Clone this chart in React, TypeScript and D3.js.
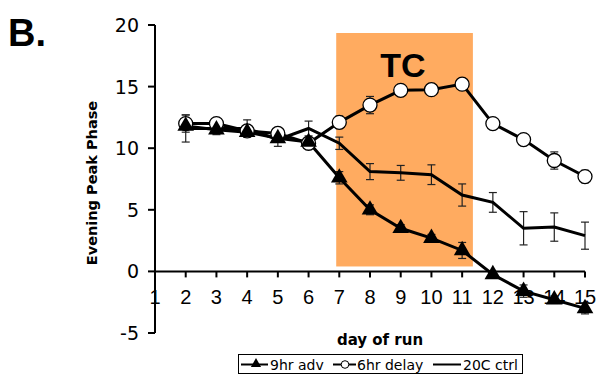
import React from 'react';
import * as d3 from 'd3';

const days = [2, 3, 4, 5, 6, 7, 8, 9, 10, 11, 12, 13, 14, 15];
const adv9 = [11.8, 11.5, 11.3, 10.8, 10.5, 7.6, 5.0, 3.5, 2.7, 1.7, -0.25, -1.6, -2.3, -3.0];
const adv9Err = [0, 0.4, 0, 0, 0, 0.5, 0.4, 0.3, 0.3, 0.65, 0.2, 0.5, 0.3, 0.45];
const delay6 = [12.0, 12.0, 11.4, 11.2, 10.4, 12.1, 13.5, 14.7, 14.75, 15.2, 12.0, 10.7, 9.0, 7.7];
const delay6Err = [0.7, 0.3, 0, 0, 0, 0.5, 0.7, 0.3, 0, 0, 0, 0, 0.7, 0.5];
const ctrl = [11.6, 11.6, 11.6, 10.7, 11.6, 10.4, 8.1, 8.0, 7.85, 6.2, 5.6, 3.5, 3.6, 2.9];
const ctrlErr = [1.1, 0.3, 0.7, 0.55, 0.6, 0.5, 0.65, 0.6, 0.8, 0.9, 0.8, 1.35, 1.15, 1.1];
const xTicks = d3.range(1, 16);
const yTicks = [-5, 0, 5, 10, 15, 20];
const tcSpan = [6.9, 11.35];
const tcRange = [0.4, 19.35];

export default function App() {
  const x = d3.scaleLinear().domain([1, 15]).range([155, 585]);
  const y = d3.scaleLinear().domain([-5, 20]).range([333, 25]);
  const line = d3.line<number>().x((_, i) => x(days[i])).y(v => y(v));
  const tri = d3.symbol().type(d3.symbolTriangle).size(120)();
  const tickFont = '"Liberation Sans", Arial, sans-serif';
  const labelFont = '"DejaVu Sans", Verdana, sans-serif';

  const errBars = (vals: number[], errs: number[], key: string) =>
    vals.map((v, i) => errs[i] > 0 ? (
      <g key={key + i} stroke="#222" strokeWidth={1.2}>
        <line x1={x(days[i])} x2={x(days[i])} y1={y(v - errs[i])} y2={y(v + errs[i])} />
        <line x1={x(days[i]) - 4} x2={x(days[i]) + 4} y1={y(v - errs[i])} y2={y(v - errs[i])} />
        <line x1={x(days[i]) - 4} x2={x(days[i]) + 4} y1={y(v + errs[i])} y2={y(v + errs[i])} />
      </g>
    ) : null);

  return (
    <svg width={600} height={375} style={{ position: 'absolute', left: 0, top: 0, background: '#fff' }}>
      <text x={8} y={46} fontFamily={tickFont} fontWeight="bold" fontSize={38}>B.</text>

      <rect x={x(tcSpan[0])} y={y(tcRange[1])} width={x(tcSpan[1]) - x(tcSpan[0])}
        height={y(tcRange[0]) - y(tcRange[1])} fill="#FFAB60" />
      <text x={403} y={77} textAnchor="middle" fontFamily={tickFont} fontWeight="bold" fontSize={34}>TC</text>

      {/* y axis */}
      <line x1={x(1)} x2={x(1)} y1={y(20)} y2={y(-5)} stroke="#000" strokeWidth={2} />
      {yTicks.map(t => (
        <g key={'y' + t}>
          <line x1={x(1) - 7} x2={x(1)} y1={y(t)} y2={y(t)} stroke="#000" strokeWidth={2} />
          <text x={x(1) - 16} y={y(t) + 7} textAnchor="end" fontFamily={labelFont} fontSize={19}>{t}</text>
        </g>
      ))}

      {/* x axis at zero */}
      <line x1={x(1)} x2={x(15)} y1={y(0)} y2={y(0)} stroke="#000" strokeWidth={2} />
      {xTicks.map(t => (
        <g key={'x' + t}>
          <line x1={x(t)} x2={x(t)} y1={y(0)} y2={y(0) + 6} stroke="#000" strokeWidth={2} />
          <text x={x(t)} y={y(0) + 33} textAnchor="middle" fontFamily={tickFont} fontSize={20}>{t}</text>
        </g>
      ))}

      <text transform={`translate(97,183) rotate(-90)`} textAnchor="middle" fontFamily={labelFont}
        fontWeight="bold" fontSize={14.5}>Evening Peak Phase</text>
      <text x={380} y={345} textAnchor="middle" fontFamily={labelFont} fontWeight="bold" fontSize={15}>day of run</text>

      {errBars(ctrl, ctrlErr, 'c')}
      {errBars(delay6, delay6Err, 'd')}
      {errBars(adv9, adv9Err, 'a')}

      <path d={line(ctrl) || ''} fill="none" stroke="#000" strokeWidth={3} />
      <path d={line(delay6) || ''} fill="none" stroke="#000" strokeWidth={3} />
      <path d={line(adv9) || ''} fill="none" stroke="#000" strokeWidth={3} />

      {delay6.map((v, i) => (
        <circle key={'dc' + i} cx={x(days[i])} cy={y(v)} r={7} fill="#fff" stroke="#000" strokeWidth={1.3} />
      ))}
      {adv9.map((v, i) => (
        <path key={'at' + i} d={tri || ''} transform={`translate(${x(days[i])},${y(v)})`} fill="#000" />
      ))}

      {/* legend */}
      <rect x={238.5} y={354.5} width={284} height={19} fill="#fff" stroke="#000" strokeWidth={1} />
      <g fontFamily={labelFont} fontSize={14}>
        <line x1={241} x2={268} y1={364.5} y2={364.5} stroke="#000" strokeWidth={2} />
        <path d={d3.symbol().type(d3.symbolTriangle).size(45)() || ''} transform="translate(256,364)" fill="#000" />
        <text x={270} y={369.5}>9hr adv</text>
        <line x1={333} x2={356} y1={364.5} y2={364.5} stroke="#000" strokeWidth={2} />
        <circle cx={345} cy={364.5} r={3.8} fill="#fff" stroke="#000" strokeWidth={1} />
        <text x={357} y={369.5}>6hr delay</text>
        <line x1={433} x2={461} y1={364.5} y2={364.5} stroke="#000" strokeWidth={2} />
        <text x={463} y={369.5}>20C ctrl</text>
      </g>
    </svg>
  );
}
